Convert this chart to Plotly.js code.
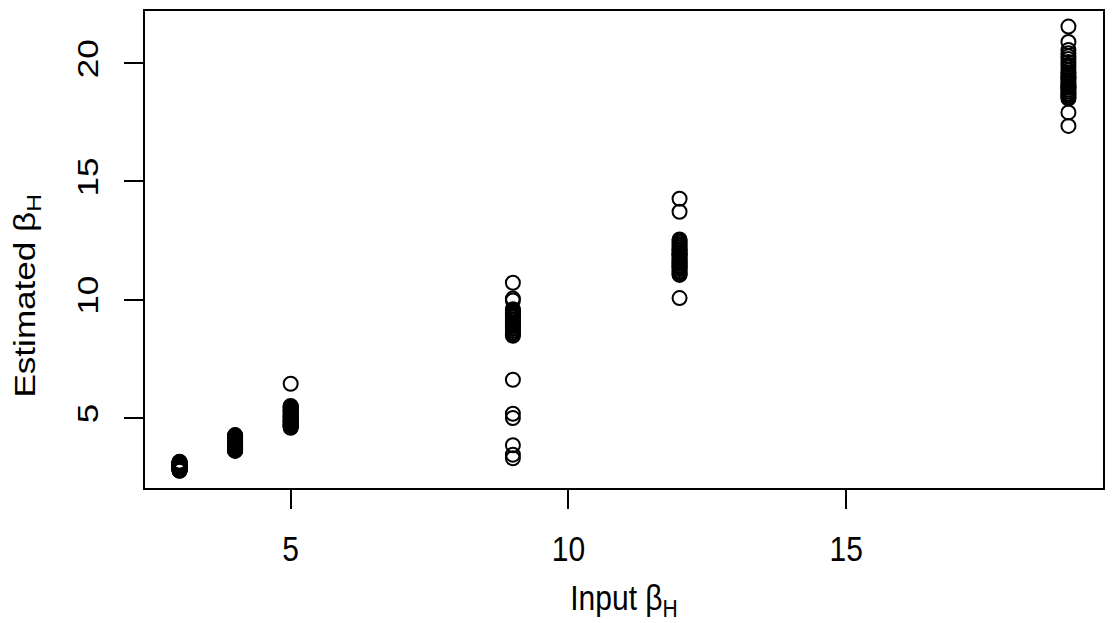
<!DOCTYPE html>
<html>
<head>
<meta charset="utf-8">
<script src="https://cdn.plot.ly/plotly-3.0.1.min.js"></script>
<style>
  html, body { margin: 0; padding: 0; background: #ffffff; }
  #chart { width: 1113px; height: 623px; }
</style>
</head>
<body>
<div id="chart"></div>
<script>
// Estimated beta_H for each simulated input beta_H (one array per input value)
const inputLevels = [3, 4, 5, 9, 12, 19];

const est3 = [2.77, 2.79, 2.80, 2.82, 2.84, 2.85, 2.87, 2.88, 2.90, 2.92, 2.93, 2.95,
              2.97, 2.99, 3.00, 3.02, 3.03, 3.05, 3.06, 3.08, 3.09, 3.11, 3.12, 3.14,
              3.15, 2.78, 2.86, 2.94, 3.04, 3.10];
const est4 = [3.61, 3.63, 3.66, 3.69, 3.71, 3.74, 3.77, 3.80, 3.83, 3.86, 3.88, 3.91,
              3.94, 3.97, 3.99, 4.02, 4.05, 4.08, 4.10, 4.13, 4.16, 4.19, 4.21, 4.24,
              4.26, 4.28, 3.65, 3.85, 4.00, 4.15];
const est5 = [6.45, 5.51, 5.48, 5.44, 5.40, 5.36, 5.32, 5.28, 5.24, 5.20, 5.16, 5.12,
              5.08, 5.04, 5.00, 4.96, 4.92, 4.88, 4.84, 4.80, 4.76, 4.72, 4.68, 4.64,
              4.61, 4.59, 5.30, 5.05, 4.90, 4.70];
const est9 = [10.72, 10.05, 9.97, 9.60, 9.56, 9.52, 9.47, 9.42, 9.36, 9.31, 9.25,
              9.18, 9.12, 9.05, 8.98, 8.91, 8.84, 8.76, 8.68, 8.60, 8.53, 8.48,
              6.62, 5.18, 5.00, 3.85, 3.45, 3.30, 9.40, 8.95];
const est12 = [14.27, 13.72, 12.55, 12.49, 12.42, 12.35, 12.28, 12.21, 12.14, 12.07,
               12.00, 11.93, 11.86, 11.79, 11.72, 11.65, 11.58, 11.51, 11.44, 11.37,
               11.30, 11.22, 11.15, 11.08, 11.05, 10.07, 12.10, 11.90, 11.60, 11.40];
const est19 = [21.55, 20.90, 20.56, 20.42, 20.30, 20.18, 20.05, 19.93, 19.82, 19.70,
               19.61, 19.52, 19.44, 19.36, 19.28, 19.20, 19.12, 19.04, 18.96, 18.88,
               18.80, 18.72, 18.64, 18.56, 18.50, 17.92, 17.35, 19.40, 19.00, 18.70];

const groups = [est3, est4, est5, est9, est12, est19];

const xs = [];
const ys = [];
groups.forEach(function (vals, i) {
  vals.forEach(function (v) {
    xs.push(inputLevels[i]);
    ys.push(v);
  });
});

const xTicks = [5, 10, 15];
const yTicks = [5, 10, 15, 20];

const xLabel = 'Input β<sub>H</sub>';
const yLabel = 'Estimated β<sub>H</sub>';

const font = '"Liberation Sans", Arial, Helvetica, sans-serif';
const fsize = 30;
// vertical stretch applied to the axis texts (tall, narrow lettering)
const textStretch = 1.17;

const trace = {
  type: 'scatter',
  mode: 'markers',
  x: xs,
  y: ys,
  marker: {
    symbol: 'circle-open',
    size: 14,
    color: '#000000',
    line: { color: '#000000', width: 2 }
  },
  hoverinfo: 'x+y'
};

const layout = {
  width: 1113,
  height: 623,
  paper_bgcolor: '#ffffff',
  plot_bgcolor: '#ffffff',
  showlegend: false,
  margin: { l: 144, r: 9, t: 10, b: 134 },
  font: { family: font, color: '#000000', size: fsize },
  xaxis: {
    range: [2.36, 19.64],
    tickmode: 'array',
    tickvals: xTicks,
    ticktext: xTicks.map(String),
    ticks: 'outside',
    ticklen: 19,
    tickwidth: 2,
    tickcolor: '#000000',
    ticklabelstandoff: 14,
    tickfont: { family: font, size: fsize, color: '#000000' },
    showgrid: false,
    zeroline: false,
    showline: false,
    automargin: false,
    title: {
      text: xLabel,
      font: { family: font, size: fsize, color: '#000000' },
      standoff: 23
    }
  },
  yaxis: {
    range: [2.0, 22.25],
    tickmode: 'array',
    tickvals: yTicks,
    ticktext: yTicks.map(String),
    tickangle: -90,
    ticks: 'outside',
    ticklen: 19,
    tickwidth: 2,
    tickcolor: '#000000',
    ticklabelstandoff: 14,
    tickfont: { family: font, size: fsize, color: '#000000' },
    showgrid: false,
    zeroline: false,
    showline: false,
    automargin: false
  },
  annotations: [{
    text: yLabel,
    textangle: -90,
    xref: 'paper', yref: 'paper',
    x: -0.122, y: 0.403,
    xanchor: 'center', yanchor: 'middle',
    showarrow: false,
    font: { family: font, size: fsize, color: '#000000' }
  }],
  shapes: [{
    type: 'rect',
    xref: 'paper', yref: 'paper',
    x0: 0, x1: 1, y0: 0, y1: 1,
    line: { color: '#000000', width: 2 },
    fillcolor: 'rgba(0,0,0,0)'
  }]
};

// Stretch each axis text vertically (in page space) about its own centre.
function stretchAxisText(gd, sy) {
  const nodes = gd.querySelectorAll('g.xtick text, g.ytick text, g.g-xtitle text, g.annotation text');
  nodes.forEach(function (t) {
    const r = t.getBoundingClientRect();
    if (!r.width && !r.height) return;
    const cx = r.left + r.width / 2;
    const cy = r.top + r.height / 2;
    const P = DOMMatrix.fromMatrix(t.parentNode.getScreenCTM());
    const S = new DOMMatrix().translate(cx, cy).scale(1, sy).translate(-cx, -cy);
    const L = P.inverse().multiply(S).multiply(P);
    const old = t.getAttribute('transform') || '';
    t.setAttribute('transform',
      'matrix(' + [L.a, L.b, L.c, L.d, L.e, L.f].join(',') + ') ' + old);
  });
}

Plotly.newPlot('chart', [trace], layout, { displayModeBar: false, staticPlot: true })
  .then(function (gd) { stretchAxisText(gd, textStretch); });
</script>
</body>
</html>
